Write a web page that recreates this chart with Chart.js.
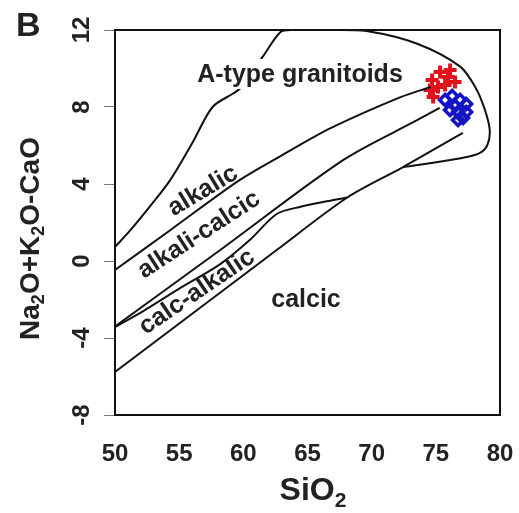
<!DOCTYPE html>
<html>
<head>
<meta charset="utf-8">
<script src="https://cdn.jsdelivr.net/npm/chart.js@4.4.1/dist/chart.umd.min.js"></script>
<style>
  html, body { margin: 0; padding: 0; background: #fff; }
  #wrap { width: 519px; height: 513px; }
</style>
</head>
<body>
<div id="wrap"><canvas id="myChart" width="519" height="513"></canvas></div>
<script>
// field boundaries, [SiO2, Na2O+K2O-CaO]
var aTypeOutline = [
  [50, 0.73], [51.2, 1.6], [52.8, 2.9], [54.3, 4.2], [56.0, 6.1], [57.6, 8.0],
  [59.2, 8.7], [59.8, 9.0], [61.5, 10.6], [62.9, 11.9], [63.8, 12.0],
  [67.0, 12.0], [69.6, 11.95], [73.5, 11.3], [76.9, 10.1], [78.1, 9.0],
  [78.8, 7.9], [79.2, 6.8], [79.0, 6.0], [78.4, 5.6], [77.4, 5.4],
  [74.8, 5.1], [72.45, 4.88]
];
var alkalicLine = [
  [50, -0.47], [54.3, 1.6], [59.7, 4.2], [62.9, 5.45], [66.8, 6.9],
  [72.2, 8.5], [74.6, 9.04]
];
var alkaliCalcicLine = [
  [50, -3.4], [58.2, 0.57], [67.8, 5.25], [73.5, 7.3], [75.3, 7.95]
];
var aTypeBase = [
  [50, -3.43], [52.2, -2.6], [55.1, -1.4], [58.2, -0.16], [60.5, 1.09],
  [62.6, 2.44], [64.4, 2.81], [66.5, 3.1], [68.1, 3.3]
];
var calcAlkalicLine = [
  [50, -5.77], [62.6, 0.57], [68.1, 3.3], [72.45, 4.88], [77.1, 6.65]
];

// samples
var redSiO2 = [75.33, 74.71, 75.95, 76.5, 74.55, 75.17, 75.72, 74.79, 76.11];
var redMali = [9.82, 9.4, 9.56, 9.3, 8.88, 9.04, 9.14, 8.52, 9.92];
var blueSiO2 = [75.72, 76.27, 76.89, 77.36, 76.11, 76.73, 77.36, 76.73, 76.5, 77.12];
var blueMali = [8.36, 8.57, 8.36, 8.16, 7.84, 7.74, 7.74, 7.32, 8.05, 7.43];

var xTicks = [50, 55, 60, 65, 70, 75, 80];
var yTicks = [-8, -4, 0, 4, 8, 12];

var FONT = '"Liberation Sans", Arial, sans-serif';

function pts(arr) {
  return arr.map(function (p) { return { x: p[0], y: p[1] }; });
}
function zip(xs, ys) {
  return xs.map(function (x, i) { return { x: x, y: ys[i] }; });
}
function curve(arr) {
  return {
    data: pts(arr),
    showLine: true,
    borderColor: '#111',
    borderWidth: 2,
    pointRadius: 0,
    tension: 0.3,
    fill: false,
  };
}

// draws text with subscript parts, centred at (0,0)
function subText(ctx, parts, big, small, drop) {
  var w = 0;
  parts.forEach(function (p) {
    ctx.font = 'bold ' + (p[1] ? small : big) + 'px ' + FONT;
    w += ctx.measureText(p[0]).width;
  });
  var x = -w / 2;
  ctx.textAlign = 'left';
  ctx.textBaseline = 'middle';
  parts.forEach(function (p) {
    ctx.font = 'bold ' + (p[1] ? small : big) + 'px ' + FONT;
    ctx.fillText(p[0], x, p[1] ? drop : 0);
    x += ctx.measureText(p[0]).width;
  });
}

var decor = {
  id: 'decor',
  afterDatasetsDraw: function (chart) {
    var ctx = chart.ctx;
    var a = chart.chartArea;
    var ys = chart.scales.y;
    ctx.save();
    ctx.fillStyle = '#222';

    // A-type label (line broken behind it)
    ctx.fillStyle = '#fff';
    ctx.fillRect(190, 59, 222, 30);
    ctx.fillStyle = '#222';
    ctx.font = 'bold 25px ' + FONT;
    ctx.textAlign = 'center';
    ctx.textBaseline = 'middle';
    ctx.fillText('A-type granitoids', 300, 75);

    ctx.fillText('calcic', 306, 300);

    var rot = [['alkalic', 203, 191, -31], ['alkali-calcic', 199, 235, -33],
               ['calc-alkalic', 197, 292, -34]];
    rot.forEach(function (r) {
      ctx.save();
      ctx.translate(r[1], r[2]);
      ctx.rotate(r[3] * Math.PI / 180);
      ctx.fillText(r[0], 0, 0);
      ctx.restore();
    });

    // frame
    ctx.strokeStyle = '#111';
    ctx.lineWidth = 2;
    ctx.strokeRect(a.left, a.top, a.right - a.left, a.bottom - a.top);

    // y tick labels, rotated
    ctx.font = 'bold 24px ' + FONT;
    ys.ticks.forEach(function (t) {
      var py = ys.getPixelForValue(t.value);
      ctx.save();
      ctx.translate(82, py);
      ctx.rotate(-Math.PI / 2);
      ctx.textAlign = 'center';
      ctx.textBaseline = 'middle';
      ctx.fillText(String(t.value), 0, 0);
      ctx.restore();
    });

    // axis titles
    ctx.save();
    ctx.translate(31, (a.top + a.bottom) / 2 + 16);
    ctx.rotate(-Math.PI / 2);
    subText(ctx, [['Na', 0], ['2', 1], ['O+K', 0], ['2', 1], ['O-CaO', 0]], 28, 18, 8);
    ctx.restore();

    ctx.save();
    ctx.translate(313, 491);
    subText(ctx, [['SiO', 0], ['2', 1]], 32, 21, 10);
    ctx.restore();

    ctx.font = 'bold 34px ' + FONT;
    ctx.textAlign = 'left';
    ctx.textBaseline = 'alphabetic';
    ctx.fillText('B', 16, 36);
    ctx.restore();
  }
};

var ctx = document.getElementById('myChart').getContext('2d');
var myChart = new Chart(ctx, {
  type: 'scatter',
  data: {
    datasets: [
      curve(aTypeOutline),
      curve(alkalicLine),
      curve(alkaliCalcicLine),
      curve(aTypeBase),
      curve(calcAlkalicLine),
      {
        data: zip(redSiO2, redMali),
        pointStyle: 'cross',
        pointRadius: 6.5,
        borderWidth: 4,
        borderColor: '#e3121a',
        backgroundColor: '#e3121a',
      },
      {
        data: zip(blueSiO2, blueMali),
        pointStyle: 'rectRot',
        pointRadius: 5.5,
        borderWidth: 3.5,
        borderColor: '#1414c4',
        backgroundColor: 'rgba(255,255,255,0)',
      },
    ],
  },
  options: {
    responsive: false,
    animation: false,
    events: [],
    layout: { padding: { top: 30, right: 19, left: 0, bottom: 0 } },
    plugins: {
      legend: { display: false },
      tooltip: { enabled: false },
    },
    scales: {
      x: {
        type: 'linear',
        min: 50,
        max: 80,
        afterBuildTicks: function (s) { s.ticks = xTicks.map(function (v) { return { value: v }; }); },
        afterFit: function (s) { s.height = 98; s.paddingLeft = 0; s.paddingRight = 0; },
        grid: { display: false },
        border: { display: false },
        ticks: {
          padding: 17,
          color: '#222',
          font: { family: FONT, size: 24, weight: 'bold' },
        },
      },
      y: {
        type: 'linear',
        min: -8,
        max: 12,
        afterBuildTicks: function (s) { s.ticks = yTicks.map(function (v) { return { value: v }; }); },
        afterFit: function (s) { s.width = 115; s.paddingTop = 0; s.paddingBottom = 0; },
        grid: {
          drawOnChartArea: false,
          drawTicks: true,
          tickLength: 11,
          color: '#777',
          lineWidth: 1,
        },
        border: { display: false },
        ticks: { display: false },
      },
    },
  },
  plugins: [decor],
});
</script>
</body>
</html>
